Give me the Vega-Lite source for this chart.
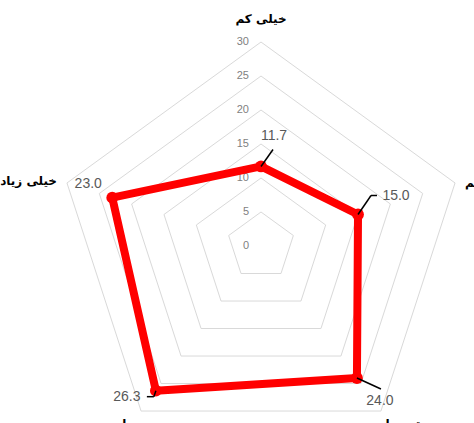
{
  "$schema": "https://vega.github.io/schema/vega-lite/v6.json",
  "width": 474,
  "height": 423,
  "padding": 0,
  "autosize": "none",
  "background": "white",
  "config": {"view": {"stroke": null}},
  "datasets": {
    "scores": [
      {"category": "خیلی کم", "i": 0, "value": 11.7},
      {"category": "کم", "i": 1, "value": 15.0},
      {"category": "متوسط", "i": 2, "value": 24.0},
      {"category": "زیاد", "i": 3, "value": 26.3},
      {"category": "خیلی زیاد", "i": 4, "value": 23.0}
    ],
    "grid": [
      {"level": 5, "i": 0}, {"level": 5, "i": 1}, {"level": 5, "i": 2}, {"level": 5, "i": 3}, {"level": 5, "i": 4},
      {"level": 10, "i": 0}, {"level": 10, "i": 1}, {"level": 10, "i": 2}, {"level": 10, "i": 3}, {"level": 10, "i": 4},
      {"level": 15, "i": 0}, {"level": 15, "i": 1}, {"level": 15, "i": 2}, {"level": 15, "i": 3}, {"level": 15, "i": 4},
      {"level": 20, "i": 0}, {"level": 20, "i": 1}, {"level": 20, "i": 2}, {"level": 20, "i": 3}, {"level": 20, "i": 4},
      {"level": 25, "i": 0}, {"level": 25, "i": 1}, {"level": 25, "i": 2}, {"level": 25, "i": 3}, {"level": 25, "i": 4},
      {"level": 30, "i": 0}, {"level": 30, "i": 1}, {"level": 30, "i": 2}, {"level": 30, "i": 3}, {"level": 30, "i": 4}
    ],
    "ticks": [
      {"level": 0}, {"level": 5}, {"level": 10}, {"level": 15}, {"level": 20}, {"level": 25}, {"level": 30}
    ]
  },
  "data": {"name": "scores"},
  "transform": [
    {"calculate": "datum.value * sin(2 * PI * datum.i / 5)", "as": "px"},
    {"calculate": "datum.value * cos(2 * PI * datum.i / 5)", "as": "py"},
    {"calculate": "30 * sin(2 * PI * datum.i / 5)", "as": "ax"},
    {"calculate": "30 * cos(2 * PI * datum.i / 5)", "as": "ay"}
  ],
  "encoding": {
    "x": {"field": "px", "type": "quantitative", "scale": {"domain": [-38.38, 31.32], "nice": false, "zero": false}, "axis": null},
    "y": {"field": "py", "type": "quantitative", "scale": {"domain": [-26.03, 36.18], "nice": false, "zero": false}, "axis": null}
  },
  "layer": [
    {
      "data": {"name": "grid"},
      "transform": [
        {"calculate": "datum.level * sin(2 * PI * datum.i / 5)", "as": "px"},
        {"calculate": "datum.level * cos(2 * PI * datum.i / 5)", "as": "py"}
      ],
      "mark": {"type": "line", "interpolate": "linear-closed", "stroke": "#d9d9d9", "strokeWidth": 1},
      "encoding": {
        "detail": {"field": "level", "type": "nominal"},
        "order": {"field": "i", "type": "quantitative"}
      }
    },
    {
      "data": {"name": "ticks"},
      "transform": [
        {"calculate": "0", "as": "px"},
        {"calculate": "datum.level", "as": "py"}
      ],
      "mark": {"type": "text", "align": "right", "baseline": "middle", "dx": -12, "fontSize": 11, "font": "Liberation Sans", "color": "#7f7f7f"},
      "encoding": {"text": {"field": "level", "type": "quantitative"}}
    },
    {
      "mark": {"type": "line", "interpolate": "linear-closed", "stroke": "#ff0000", "strokeWidth": 8, "strokeJoin": "round"},
      "encoding": {"order": {"field": "i", "type": "quantitative"}}
    },
    {
      "mark": {"type": "circle", "size": 140, "color": "#ff0000", "opacity": 1}
    },
    {
      "transform": [{"filter": "datum.i == 0"}],
      "mark": {"type": "rule", "color": "#000000", "strokeWidth": 1.5, "x2Offset": 12, "y2Offset": -17},
      "encoding": {"x2": {"field": "px"}, "y2": {"field": "py"}}
    },
    {
      "transform": [{"filter": "datum.i == 1"}],
      "mark": {"type": "rule", "color": "#000000", "strokeWidth": 1.5, "x2Offset": 13, "y2Offset": -19},
      "encoding": {"x2": {"field": "px"}, "y2": {"field": "py"}}
    },
    {
      "transform": [{"filter": "datum.i == 1"}],
      "mark": {"type": "rule", "color": "#000000", "strokeWidth": 1.5, "xOffset": 13, "yOffset": -19, "x2Offset": 19, "y2Offset": -19},
      "encoding": {"x2": {"field": "px"}, "y2": {"field": "py"}}
    },
    {
      "transform": [{"filter": "datum.i == 2"}],
      "mark": {"type": "rule", "color": "#000000", "strokeWidth": 1.5, "x2Offset": 24, "y2Offset": 11},
      "encoding": {"x2": {"field": "px"}, "y2": {"field": "py"}}
    },
    {
      "transform": [{"filter": "datum.i == 3"}],
      "mark": {"type": "rule", "color": "#000000", "strokeWidth": 1.5, "x2Offset": -2, "y2Offset": 6},
      "encoding": {"x2": {"field": "px"}, "y2": {"field": "py"}}
    },
    {
      "transform": [{"filter": "datum.i == 3"}],
      "mark": {"type": "rule", "color": "#000000", "strokeWidth": 1.5, "xOffset": -2, "yOffset": 6, "x2Offset": -9, "y2Offset": 6},
      "encoding": {"x2": {"field": "px"}, "y2": {"field": "py"}}
    },
    {
      "transform": [{"filter": "datum.i == 0"}],
      "mark": {"type": "text", "align": "center", "baseline": "middle", "dx": 13, "dy": -30, "fontSize": 14, "font": "Liberation Sans", "color": "#595959"},
      "encoding": {"text": {"field": "value", "type": "quantitative", "format": ".1f"}}
    },
    {
      "transform": [{"filter": "datum.i == 1"}],
      "mark": {"type": "text", "align": "center", "baseline": "middle", "dx": 38, "dy": -18, "fontSize": 14, "font": "Liberation Sans", "color": "#595959"},
      "encoding": {"text": {"field": "value", "type": "quantitative", "format": ".1f"}}
    },
    {
      "transform": [{"filter": "datum.i == 2"}],
      "mark": {"type": "text", "align": "center", "baseline": "middle", "dx": 23, "dy": 23, "fontSize": 14, "font": "Liberation Sans", "color": "#595959"},
      "encoding": {"text": {"field": "value", "type": "quantitative", "format": ".1f"}}
    },
    {
      "transform": [{"filter": "datum.i == 3"}],
      "mark": {"type": "text", "align": "center", "baseline": "middle", "dx": -29, "dy": 6, "fontSize": 14, "font": "Liberation Sans", "color": "#595959"},
      "encoding": {"text": {"field": "value", "type": "quantitative", "format": ".1f"}}
    },
    {
      "transform": [{"filter": "datum.i == 4"}],
      "mark": {"type": "text", "align": "center", "baseline": "middle", "dx": -24, "dy": -14, "fontSize": 14, "font": "Liberation Sans", "color": "#595959"},
      "encoding": {"text": {"field": "value", "type": "quantitative", "format": ".1f"}}
    },
    {
      "transform": [{"filter": "datum.i == 0"}],
      "mark": {"type": "text", "align": "center", "baseline": "middle", "dy": -23, "fontSize": 12, "fontWeight": "bold", "font": "DejaVu Sans", "color": "#000000"},
      "encoding": {"x": {"field": "ax", "type": "quantitative"}, "y": {"field": "ay", "type": "quantitative"}, "text": {"field": "category"}}
    },
    {
      "transform": [{"filter": "datum.i == 1"}],
      "mark": {"type": "text", "align": "left", "baseline": "middle", "dx": 10, "fontSize": 12, "fontWeight": "bold", "font": "DejaVu Sans", "color": "#000000"},
      "encoding": {"x": {"field": "ax", "type": "quantitative"}, "y": {"field": "ay", "type": "quantitative"}, "text": {"field": "category"}}
    },
    {
      "transform": [{"filter": "datum.i == 2"}],
      "mark": {"type": "text", "align": "center", "baseline": "middle", "dx": 25, "dy": 13, "fontSize": 12, "fontWeight": "bold", "font": "DejaVu Sans", "color": "#000000"},
      "encoding": {"x": {"field": "ax", "type": "quantitative"}, "y": {"field": "ay", "type": "quantitative"}, "text": {"field": "category"}}
    },
    {
      "transform": [{"filter": "datum.i == 3"}],
      "mark": {"type": "text", "align": "center", "baseline": "middle", "dx": -14, "dy": 13, "fontSize": 12, "fontWeight": "bold", "font": "DejaVu Sans", "color": "#000000"},
      "encoding": {"x": {"field": "ax", "type": "quantitative"}, "y": {"field": "ay", "type": "quantitative"}, "text": {"field": "category"}}
    },
    {
      "transform": [{"filter": "datum.i == 4"}],
      "mark": {"type": "text", "align": "right", "baseline": "middle", "dx": -10, "dy": -2, "fontSize": 12, "fontWeight": "bold", "font": "DejaVu Sans", "color": "#000000"},
      "encoding": {"x": {"field": "ax", "type": "quantitative"}, "y": {"field": "ay", "type": "quantitative"}, "text": {"field": "category"}}
    }
  ]
}
